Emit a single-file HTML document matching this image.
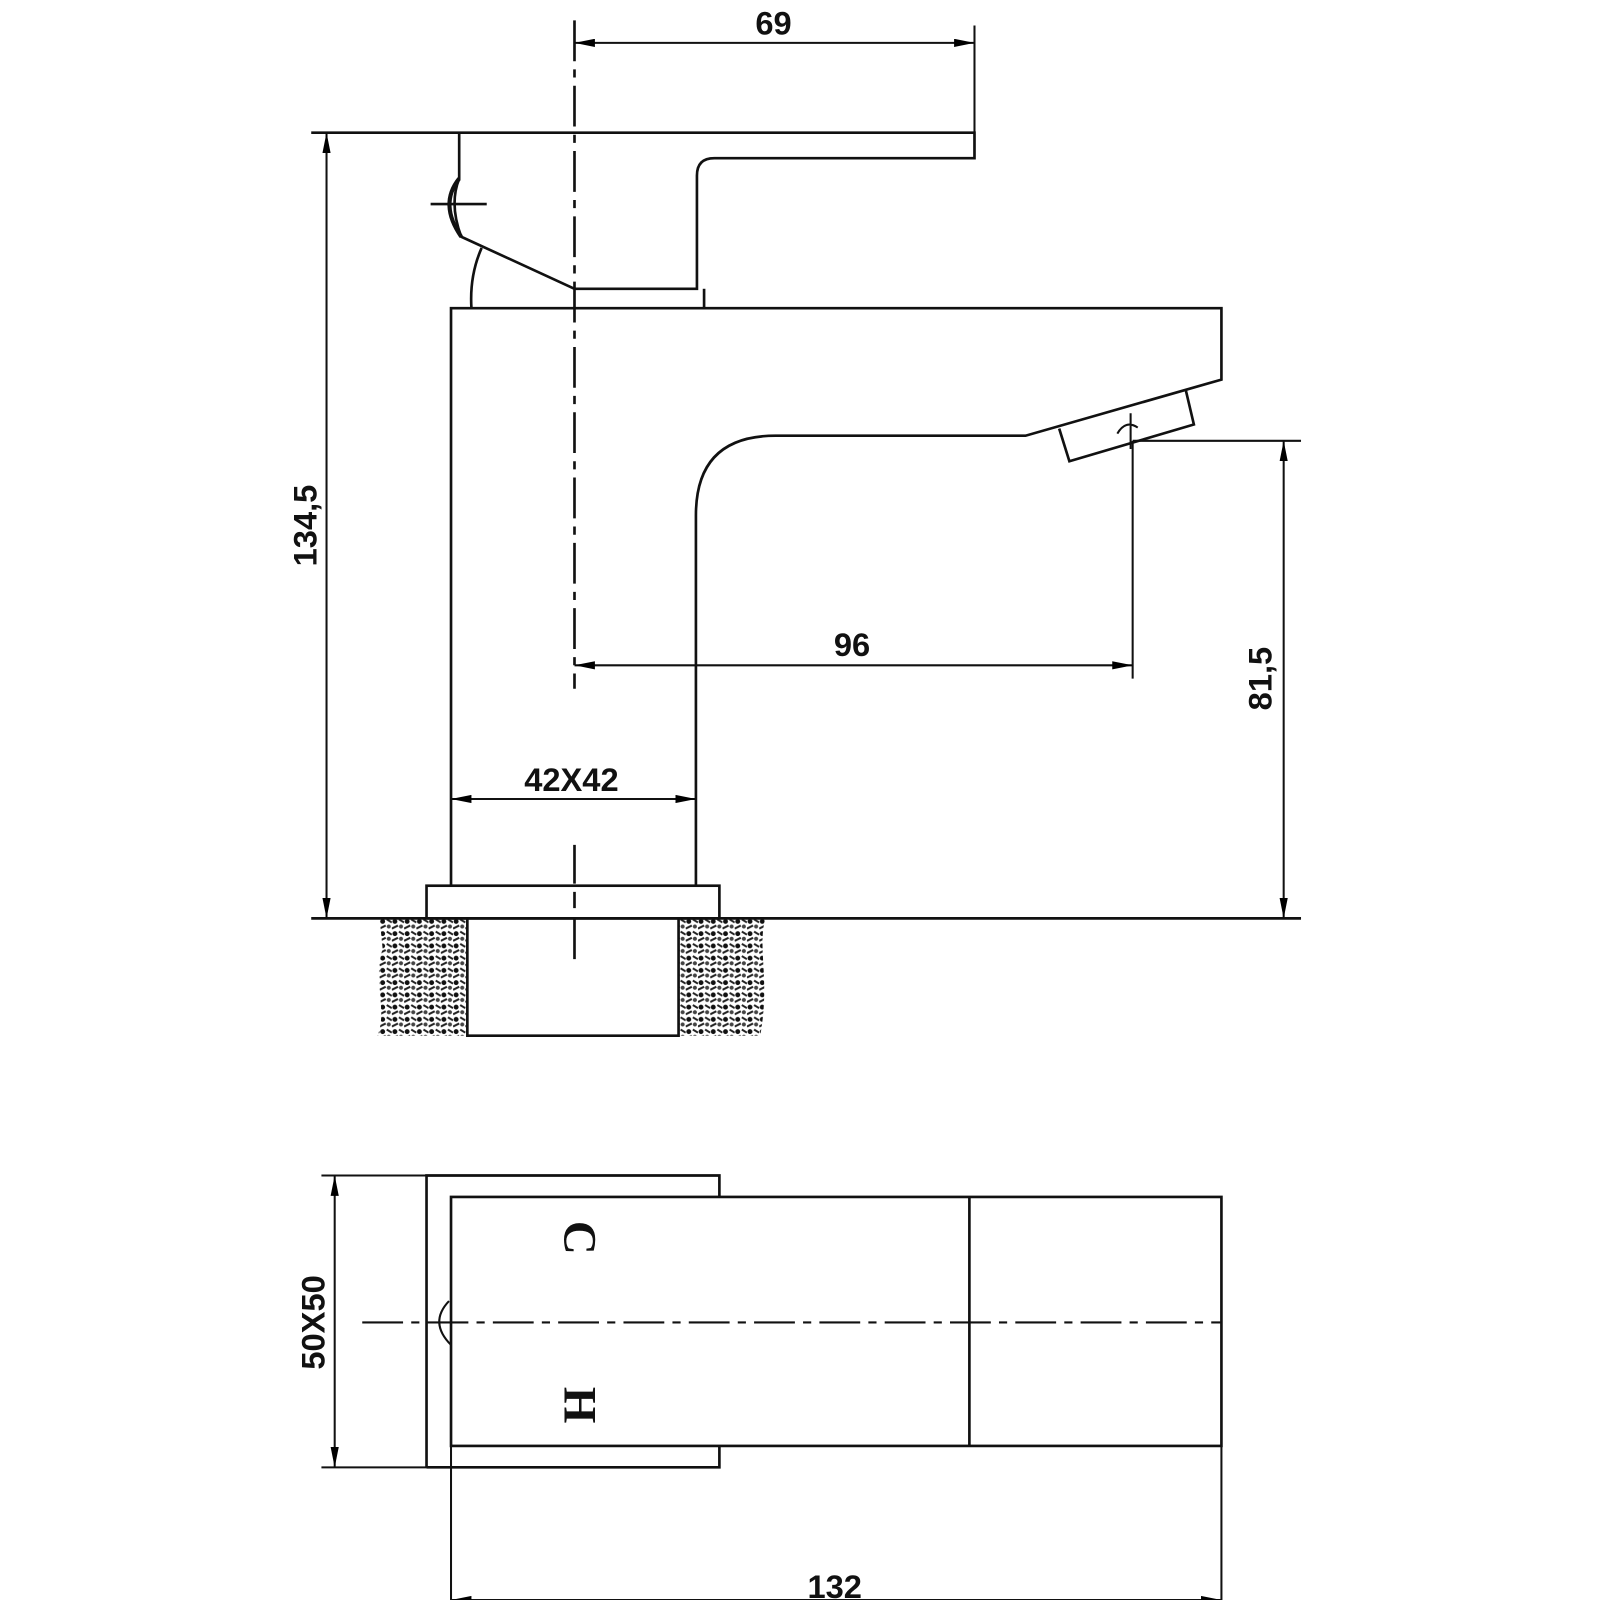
<!DOCTYPE html>
<html><head><meta charset="utf-8"><style>html,body{margin:0;padding:0;background:#fff}svg{display:block}</style></head>
<body>
<svg width="1600" height="1600" viewBox="0 0 1568 1568" xmlns="http://www.w3.org/2000/svg">
<defs>
<pattern id="h" width="12" height="12" patternUnits="userSpaceOnUse">
<rect width="12" height="12" fill="#fff"/>
<circle cx="3" cy="3" r="2.4" fill="#111"/><circle cx="9" cy="8" r="2" fill="#444"/><path d="M0 10 L6 7 M7 1 L12 4" stroke="#222" stroke-width="2"/>
</pattern>
<marker id="a" viewBox="0 0 20 8" refX="20" refY="4" markerWidth="20" markerHeight="8" orient="auto-start-reverse" markerUnits="userSpaceOnUse"><path d="M0 0 L20 4 L0 8 Z" fill="#000"/></marker>
</defs>
<g fill="none" stroke="#111" stroke-width="2.6">
<path d="M372 900 L458 900 L458 1015 L370 1015 C380 990 365 960 375 930 Z" fill="url(#h)" stroke="none"/>
<path d="M665 900 L750 900 C742 930 755 960 745 1015 L665 1015 Z" fill="url(#h)" stroke="none"/>
<path d="M458 900 V1015 H665 V900"/>
<path d="M305 900 H1275"/>
<rect x="418" y="868" width="287" height="32"/>
<path d="M442 868 V302 H1197 V372 L1005 427 H760 Q682 427 682 505 V868"/>
<path d="M1038 420 L1048 452 L1170 416 L1162 382"/>
<path d="M1095 425 q8 -14 20 -6 M1108 405 V440" stroke-width="2"/>
<path d="M305 130 H955 V155 H700 Q683 155 683 172 V283 H563 L452 232 Q440 200 450 175 V130"/>
<path d="M422 200 H477"/>
<path d="M472 243 Q460 270 462 302"/>
<path d="M690 283 V302"/>
<path d="M450 175 Q430 200 452 232" stroke-width="4"/>
<path d="M563 20 V675" stroke-dasharray="40,8,8,8"/>
<path d="M563 828 V866 M563 874 V890 M563 900 V940"/>
<g stroke-width="2">
<path d="M955 25 V155"/>
<path d="M563 42 H955" marker-start="url(#a)" marker-end="url(#a)"/>
<path d="M320 130 V900" marker-start="url(#a)" marker-end="url(#a)"/>
<path d="M1110 432 H1275 M1110 432 V665"/>
<path d="M1258 432 V900" marker-start="url(#a)" marker-end="url(#a)"/>
<path d="M563 652 H1110" marker-start="url(#a)" marker-end="url(#a)"/>
<path d="M442 783 H682" marker-start="url(#a)" marker-end="url(#a)"/>
</g>
<path d="M418 1438 V1152 H705 V1173"/>
<path d="M418 1438 H705 V1417"/>
<rect x="442" y="1173" width="755" height="244"/>
<path d="M950 1173 V1417"/>
<path d="M355 1296 H1197" stroke-dasharray="40,8,8,8" stroke-width="2"/>
<path d="M440 1275 Q420 1296 442 1318" stroke-width="2"/>
<g stroke-width="2">
<path d="M315 1152 H418 M315 1438 H418"/>
<path d="M328 1152 V1438" marker-start="url(#a)" marker-end="url(#a)"/>
<path d="M442 1417 V1590 M1197 1417 V1590"/>
<path d="M442 1568 H1197" marker-start="url(#a)" marker-end="url(#a)"/>
</g>
</g>
<g font-family="Liberation Sans, sans-serif" font-size="32" font-weight="bold" fill="#111" text-anchor="middle">
<text x="758" y="34">69</text>
<text x="835" y="643">96</text>
<text x="560" y="775">42X42</text>
<text x="818" y="1566">132</text>
<text transform="translate(310,515) rotate(-90)">134,5</text>
<text transform="translate(1246,665) rotate(-90)">81,5</text>
<text transform="translate(318,1296) rotate(-90)">50X50</text>
</g>
<g font-family="Liberation Serif, serif" font-size="46" font-weight="bold" fill="#111" text-anchor="middle">
<text transform="translate(553,1213) rotate(90)">C</text>
<text transform="translate(553,1377) rotate(90)">H</text>
</g>
</svg>
</body></html>
